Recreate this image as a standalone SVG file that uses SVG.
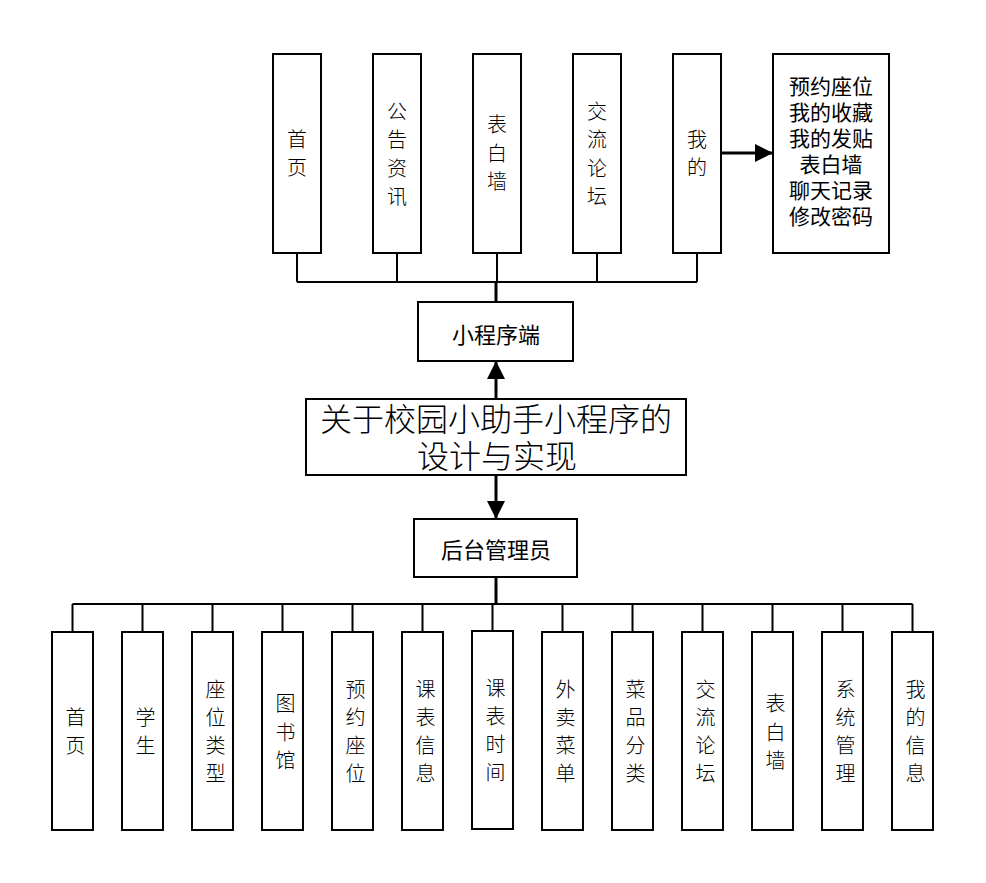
<svg xmlns="http://www.w3.org/2000/svg" width="986" height="883" viewBox="0 0 986 883">
<defs>
<style>
.box{fill:#fff;stroke:#000;stroke-width:2}
.ln{fill:none;stroke:#000;stroke-width:2}
.sp{fill:none;stroke:#000;stroke-width:3}
.t{font-family:"Noto Sans CJK SC","Noto Sans CJK TC",sans-serif;font-size:20px;fill:#000;text-anchor:middle;font-weight:300}
.tb{font-family:"Noto Sans CJK SC","Noto Sans CJK TC",sans-serif;font-size:21px;fill:#000;text-anchor:middle;font-weight:400}
.tm{font-family:"Noto Sans CJK SC","Noto Sans CJK TC",sans-serif;font-size:32px;fill:#000;text-anchor:middle;font-weight:300}
</style>
<marker id="ah" markerUnits="userSpaceOnUse" markerWidth="18" markerHeight="18" viewBox="0 0 18 18" refX="18" refY="9" orient="auto">
<path d="M0,0 L18,9 L0,18 z" fill="#000"/>
</marker>
</defs>
<rect width="986" height="883" fill="#fff"/>

<g id="connectors">
<path class="ln" d="M297,253V282M397,253V282M497,253V282M597,253V282M697,253V282M297,282H697"/>
<path class="sp" d="M496,282V302"/>
<line class="sp" x1="721" y1="153" x2="773" y2="153" marker-end="url(#ah)"/>
<line class="sp" x1="496" y1="399" x2="496" y2="361" marker-end="url(#ah)"/>
<line class="sp" x1="496" y1="475" x2="496" y2="519" marker-end="url(#ah)"/>
<path class="sp" d="M496,577V604"/>
<path class="ln" d="M72.5,604H912.5M72.5,604V632M142.5,604V632M212.5,604V632M282.5,604V632M352.5,604V632M422.5,604V632M492.5,604V632M562.5,604V632M632.5,604V632M702.5,604V632M772.5,604V632M842.5,604V632M912.5,604V632"/>
</g>

<g id="top-shouye"><rect class="box" x="273" y="54" width="48" height="199"/><text class="t" x="297" y="147">首<tspan x="297" dy="28">页</tspan></text></g>
<g id="top-gonggao"><rect class="box" x="373" y="54" width="48" height="199"/><text class="t" x="397" y="119">公<tspan x="397" dy="28.3">告</tspan><tspan x="397" dy="28.3">资</tspan><tspan x="397" dy="28.3">讯</tspan></text></g>
<g id="top-biaobai"><rect class="box" x="473" y="54" width="48" height="199"/><text class="t" x="497" y="132">表<tspan x="497" dy="28.5">白</tspan><tspan x="497" dy="28.5">墙</tspan></text></g>
<g id="top-jiaoliu"><rect class="box" x="573" y="54" width="48" height="199"/><text class="t" x="597" y="119">交<tspan x="597" dy="28.3">流</tspan><tspan x="597" dy="28.3">论</tspan><tspan x="597" dy="28.3">坛</tspan></text></g>
<g id="top-wode"><rect class="box" x="673" y="54" width="48" height="199"/><text class="t" x="697" y="147">我<tspan x="697" dy="28">的</tspan></text></g>
<g id="top-wode-detail"><rect class="box" x="773" y="54" width="116" height="199"/><text class="tb" x="831" y="94">预约座位<tspan x="831" dy="26">我的收藏</tspan><tspan x="831" dy="26">我的发贴</tspan><tspan x="831" dy="26">表白墙</tspan><tspan x="831" dy="26">聊天记录</tspan><tspan x="831" dy="26">修改密码</tspan></text></g>

<g id="miniapp"><rect class="box" x="418" y="302" width="155" height="59"/><text class="tb" x="496" y="343" style="font-size:22px">小程序端</text></g>
<g id="main"><rect class="box" x="306" y="399" width="380" height="76"/><text class="tm" x="496" y="431">关于校园小助手小程序的<tspan x="497" dy="36.5">设计与实现</tspan></text></g>
<g id="admin"><rect class="box" x="414" y="519" width="163" height="58"/><text class="tb" x="496" y="558" style="font-size:22px">后台管理员</text></g>

<g id="b-shouye"><rect class="box" x="52" y="632" width="41" height="198"/><text class="t" x="75.5" y="725">首<tspan x="75.5" dy="28">页</tspan></text></g>
<g id="b-xuesheng"><rect class="box" x="122" y="632" width="41" height="198"/><text class="t" x="145.5" y="725">学<tspan x="145.5" dy="28">生</tspan></text></g>
<g id="b-zuoweileixing"><rect class="box" x="192" y="632" width="41" height="198"/><text class="t" x="215.5" y="697">座<tspan x="215.5" dy="28">位</tspan><tspan x="215.5" dy="28">类</tspan><tspan x="215.5" dy="28">型</tspan></text></g>
<g id="b-tushuguan"><rect class="box" x="262" y="632" width="41" height="198"/><text class="t" x="285.5" y="711">图<tspan x="285.5" dy="28.5">书</tspan><tspan x="285.5" dy="28.5">馆</tspan></text></g>
<g id="b-yuyuezuowei"><rect class="box" x="332" y="632" width="41" height="198"/><text class="t" x="355.5" y="697">预<tspan x="355.5" dy="28">约</tspan><tspan x="355.5" dy="28">座</tspan><tspan x="355.5" dy="28">位</tspan></text></g>
<g id="b-kebiaoxinxi"><rect class="box" x="402" y="632" width="41" height="198"/><text class="t" x="425.5" y="697">课<tspan x="425.5" dy="28">表</tspan><tspan x="425.5" dy="28">信</tspan><tspan x="425.5" dy="28">息</tspan></text></g>
<g id="b-kebiaoshijian"><rect class="box" x="472" y="631" width="41" height="198"/><text class="t" x="495.5" y="696">课<tspan x="495.5" dy="28">表</tspan><tspan x="495.5" dy="28">时</tspan><tspan x="495.5" dy="28">间</tspan></text></g>
<g id="b-waimaicaidan"><rect class="box" x="542" y="632" width="41" height="198"/><text class="t" x="565.5" y="697">外<tspan x="565.5" dy="28">卖</tspan><tspan x="565.5" dy="28">菜</tspan><tspan x="565.5" dy="28">单</tspan></text></g>
<g id="b-caipinfenlei"><rect class="box" x="612" y="632" width="41" height="198"/><text class="t" x="635.5" y="697">菜<tspan x="635.5" dy="28">品</tspan><tspan x="635.5" dy="28">分</tspan><tspan x="635.5" dy="28">类</tspan></text></g>
<g id="b-jiaoliuluntan"><rect class="box" x="682" y="632" width="41" height="198"/><text class="t" x="705.5" y="697">交<tspan x="705.5" dy="28">流</tspan><tspan x="705.5" dy="28">论</tspan><tspan x="705.5" dy="28">坛</tspan></text></g>
<g id="b-biaobaiqiang"><rect class="box" x="752" y="632" width="41" height="198"/><text class="t" x="775.5" y="711">表<tspan x="775.5" dy="28.5">白</tspan><tspan x="775.5" dy="28.5">墙</tspan></text></g>
<g id="b-xitongguanli"><rect class="box" x="822" y="632" width="41" height="198"/><text class="t" x="845.5" y="697">系<tspan x="845.5" dy="28">统</tspan><tspan x="845.5" dy="28">管</tspan><tspan x="845.5" dy="28">理</tspan></text></g>
<g id="b-wodexinxi"><rect class="box" x="892" y="632" width="41" height="198"/><text class="t" x="915.5" y="697">我<tspan x="915.5" dy="28">的</tspan><tspan x="915.5" dy="28">信</tspan><tspan x="915.5" dy="28">息</tspan></text></g>
</svg>
